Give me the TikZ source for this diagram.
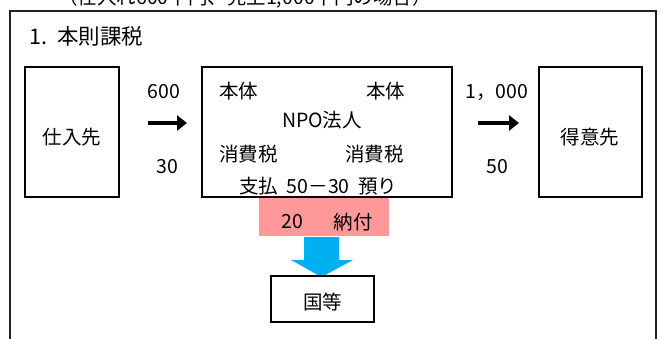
\documentclass[tikz,border=0pt]{standalone}
\usepackage{fontspec}
\setmainfont{Noto Sans CJK JP}
\usetikzlibrary{arrows.meta}
\definecolor{pinkfill}{HTML}{FF9999}
\definecolor{bluearrow}{HTML}{00B0F0}
\definecolor{framegray}{HTML}{222222}
\tikzset{
  box/.style={draw=black, line width=1.3pt, inner sep=0pt},
  lbl/.style={font=\fontsize{19.5}{22}\selectfont, inner sep=0pt},
  ttl/.style={font=\fontsize{21.5}{24}\selectfont, inner sep=0pt},
  flowarrow/.style={line width=4.6pt, -{Triangle[length=10pt,width=15pt]}},
}
\begin{document}
\begin{tikzpicture}[x=1pt,y=-1pt]
\useasboundingbox (0,0) rectangle (662,338);
\clip (0,0) rectangle (662,338);
\fill[white] (0,0) rectangle (662,338);
% cut-off caption
\node[lbl, anchor=base west] (cap) at (58,4) {（仕入れ600千円、売上1,000千円の場合）};
% outer frame
\draw[framegray, line width=1.6pt] (10,345) -- (10,11) -- (656,11) -- (656,345);
\node[ttl, anchor=west] (title) at (29,36) {1.\hspace{10pt}本則課税};
% boxes
\draw[box] (25,67) rectangle (119,197);
\node[lbl] (shiire) at (72,137) {仕入先};
\draw[box] (202,67) rectangle (452,197);
\draw[box] (539,67) rectangle (642,197);
\node[lbl] (tokui) at (590,137) {得意先};
% NPO texts
\node[lbl, anchor=west] (hon1) at (219,91) {本体};
\node[lbl, anchor=west] (hon2) at (366,91) {本体};
\node[lbl] (npo) at (322,120) {NPO法人};
\node[lbl, anchor=west] (sho1) at (219,154) {消費税};
\node[lbl, anchor=west] (sho2) at (345,154) {消費税};
\node[lbl, anchor=west] (calc) at (239,186) {支払\ \ 50－30\ \ 預り};
% left flow
\node[lbl] (v600) at (164,92) {600};
\node[lbl] (v30) at (167,167) {30};
\coordinate (la1) at (148,123);
\coordinate (la2) at (187,123);
\draw[flowarrow] (la1) -- (la2);
% right flow
\node[lbl] (v1000) at (497,92) {1，000};
\node[lbl] (v50) at (497,167) {50};
\coordinate (ra1) at (478,123);
\coordinate (ra2) at (519,123);
\draw[flowarrow] (ra1) -- (ra2);
% payment
\fill[pinkfill] (259,197.8) rectangle (389,236);
\node[lbl] (v20) at (292,222) {20};
\node[lbl] (nofu) at (353,222) {納付};
% blue arrow
\fill[bluearrow] (304,237) -- (339,237) -- (339,260) -- (353,260) -- (321.5,277) -- (291,260) -- (304,260) -- cycle;
% destination
\draw[box] (271,276) rectangle (374,322);
\node[lbl] (kuni) at (322.5,302) {国等};
\end{tikzpicture}
\end{document}
